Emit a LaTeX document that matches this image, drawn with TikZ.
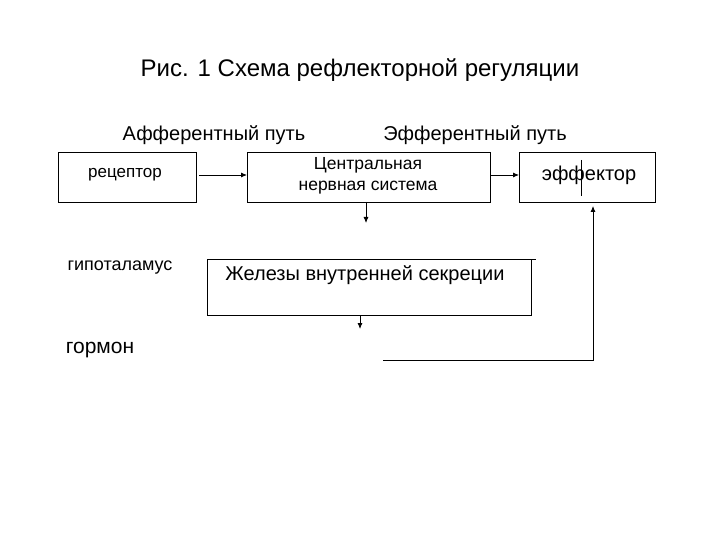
\documentclass[tikz,border=0pt]{standalone}
\usepackage{fontspec}
\setmainfont{Liberation Sans}
\usetikzlibrary{arrows.meta}
\begin{document}
\begin{tikzpicture}[x=1pt,y=-1pt,>={Latex[length=6pt,width=5pt]},
  bx/.style={draw,line width=0.8pt},
  ln/.style={line width=0.8pt}]
\useasboundingbox (0,0) rectangle (720,540);
\node (title) at (360,70) {\fontsize{24}{28}\selectfont Рис. 1 Схема рефлекторной регуляции};
\node (aff) at (214,135) {\fontsize{20}{24}\selectfont Афферентный путь};
\node (eff) at (475,135) {\fontsize{20}{24}\selectfont Эфферентный путь};
\draw[bx] (58,152) rectangle (196,202);
\node (rec) at (125,175) {\fontsize{17}{20}\selectfont рецептор};
\draw[bx] (247,152) rectangle (490,202);
\node (cns) at (368,176) [align=center,font=\fontsize{17.5}{21}\selectfont] {Центральная\\нервная система};
\draw[bx] (519,152) rectangle (655,202);
\node (effr) at (589,175) {\fontsize{20}{24}\selectfont эффектор};
\draw[ln] (581,160) -- (581,196);
\coordinate (r1) at (199,175); \coordinate (c1) at (247,175);
\draw[ln,->] (r1) -- (c1);
\coordinate (c2) at (490,175); \coordinate (e1) at (519,175);
\draw[ln,->] (c2) -- (e1);
\coordinate (c3) at (366,202); \coordinate (c4) at (366,223);
\draw[ln,->] (c3) -- (c4);
\node (hyp) at (120,268) {\fontsize{18}{21}\selectfont гипоталамус};
\draw[ln] (531,259) -- (207,259) -- (207,315) -- (531,315) -- (531,259);
\draw[ln] (531,259) -- (536,259);
\node (zh) at (365,275) {\fontsize{20}{24}\selectfont Железы внутренней секреции};
\coordinate (z1) at (360,315); \coordinate (z2) at (360,329);
\draw[ln,->] (z1) -- (z2);
\node (gorm) at (100,350) {\fontsize{21}{25}\selectfont гормон};
\coordinate (g1) at (383,360); \coordinate (g2) at (593,360); \coordinate (g3) at (593,206);
\draw[ln,->] (g1) -- (g2) -- (g3);
\end{tikzpicture}
\end{document}
